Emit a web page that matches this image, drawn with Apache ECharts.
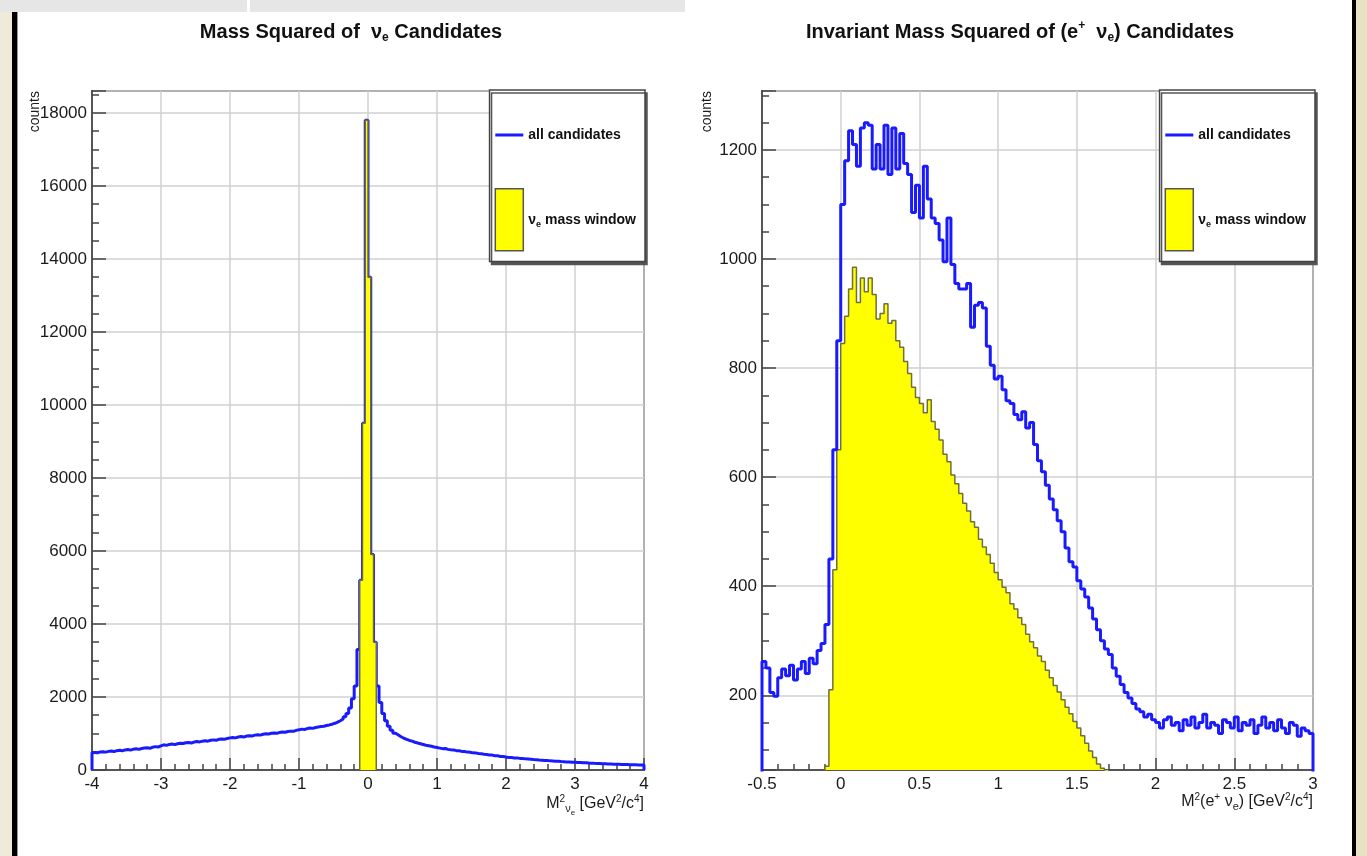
<!DOCTYPE html>
<html>
<head>
<meta charset="utf-8">
<script src="https://cdn.jsdelivr.net/npm/echarts@6/dist/echarts.min.js"></script>
<style>
  html, body { margin: 0; padding: 0; background: #ffffff; }
  #chart { width: 1367px; height: 856px; }
</style>
</head>
<body>
<div id="chart"></div>
<script>
// ---- Left panel: squared mass of the nu_e candidates, 200 bins of 0.04 on [-4, 4]
const nuRange = [-4, 4];
const nuBinWidth = 0.04;
const nuAllCounts = [
  480, 470, 495, 500, 490, 510, 520, 505, 530, 540, 525, 550, 560, 545, 570, 580, 565, 590, 600, 610, 595, 625, 640, 630, 660,
  690, 675, 700, 710, 695, 720, 735, 725, 745, 755, 740, 765, 780, 770, 790, 800, 790, 815, 825, 815, 840, 850, 840, 865, 880,
  890, 880, 905, 915, 905, 930, 940, 930, 955, 965, 955, 980, 990, 985, 1005, 1015, 1005, 1030, 1040, 1035, 1055, 1065, 1060, 1085, 1100,
  1120, 1110, 1135, 1150, 1140, 1165, 1180, 1190, 1200, 1220, 1235, 1255, 1280,
  1310, 1350, 1400, 1460, 1550, 1700, 1950,
  2300, 3300,
  5200, 9500, 17800, 13500, 5900, 3500,
  2300, 1850, 1550, 1350, 1200, 1090, 1010, 960, 910, 870, 840, 810, 790, 760, 740, 720, 700, 680, 665, 650, 630, 615,
  600, 585, 590, 565, 555, 550, 530, 528, 510, 505, 490, 488, 470, 468, 450, 448, 430, 425, 410, 408, 392, 388, 372, 368, 355,
  345, 340, 330, 332, 318, 315, 305, 300, 295, 285, 282, 272, 270, 262, 258, 250, 248, 240, 238, 232, 228, 222, 220, 215, 212,
  208, 205, 198, 196, 190, 188, 182, 180, 176, 172, 170, 166, 163, 160, 158, 155, 152, 150, 148, 146, 144, 142, 140, 138, 136
];
// nu_e mass window: bins 97..102, i.e. [-0.12, 0.12]
const nuWindowFirstBin = 97;
const nuWindowCounts = [5200, 9500, 17800, 13500, 5900, 3500];
const nuCountAxis = { min: 0, max: 18600, interval: 2000 };
const nuMassAxis = { interval: 1 };

// ---- Right panel: invariant mass squared of (e+ nu_e), 140 bins of 0.025 on [-0.5, 3]
const evRange = [-0.5, 3];
const evBinWidth = 0.025;
const evAllCounts = [
  262, 250, 205, 198, 232, 248, 236, 255, 228, 248, 262, 240, 268, 258, 282, 295,
  330, 450, 650, 850,
  1100, 1180, 1235, 1210, 1170, 1240, 1250, 1245, 1165, 1210, 1165, 1245, 1155, 1240, 1165, 1230, 1175, 1155, 1085, 1135,
  1075, 1170, 1110, 1075, 1065, 1035, 995, 1075, 990, 955, 945, 945, 955, 875, 915, 920, 910, 840, 805, 780, 785, 760, 740,
  735, 715, 705, 720, 690, 700, 660, 630, 610, 585, 560, 540, 520, 500, 470, 445, 435, 410, 395, 380,
  360, 340, 320, 300, 285, 275, 250, 235, 220, 205, 195, 185, 175, 170, 160, 165, 155,
  150, 140, 155, 160, 145, 150, 135, 155, 145, 160, 140, 150, 165, 140, 150, 145, 130, 155, 150, 140,
  160, 135, 150, 145, 155, 130, 145, 160, 140, 150, 135, 155, 140, 130, 150, 145, 125, 140, 135, 130
];
// candidates inside the nu_e mass window, starting at bin 16 ([-0.1, -0.075])
const evWindowFirstBin = 16;
const evWindowCounts = [
  70, 210, 430, 650, 845, 895, 945, 985, 920, 965, 940, 965, 935, 890, 900, 918, 882, 887, 850, 838,
  812, 790, 765, 746, 735, 718, 742, 702, 688, 668, 642, 628, 604, 588, 570, 552, 538, 518, 508, 486,
  472, 458, 442, 425, 412, 398, 388, 368, 358, 342, 330, 312, 298, 287, 272, 262, 246, 232, 218, 206,
  192, 178, 166, 152, 140, 126, 112, 98, 86, 74, 66, 58
];
const evCountAxis = { min: 63, max: 1308, splitNumber: 6 };
const evMassAxis = { interval: 0.5 };

const legendNames = ['all candidates', 'νe mass window'];

// ---------------------------------------------------------------------------
const FONT = '"Liberation Sans", Arial, sans-serif';
const INK = '#1b1b1b';
const BLUE = '#1a1aff';
const YELLOW = '#ffff00';
const OLIVE = '#6f6f3a';

// Step outline of a histogram: [edge, count] pairs closed down to the base.
function histogramPoints(x0, width, counts, base) {
  const pts = [[x0, base]];
  counts.forEach((c, i) => pts.push([x0 + i * width, c]));
  const xEnd = x0 + counts.length * width;
  pts.push([xEnd, counts[counts.length - 1]]);
  pts.push([xEnd, base]);
  return pts;
}

const supSub = {
  a: { fontFamily: FONT, fontSize: 16, color: INK },
  p: { fontFamily: FONT, fontSize: 10, color: INK, padding: [0, 0, 9, 0] },
  s: { fontFamily: FONT, fontSize: 11, color: INK, padding: [10, 0, 0, 0] },
  ss: { fontFamily: FONT, fontSize: 8, color: INK, padding: [18, 0, 0, 0] }
};
const titleRich = {
  a: { fontFamily: FONT, fontSize: 20, fontWeight: 'bold', color: '#111' },
  s: { fontFamily: FONT, fontSize: 12, fontWeight: 'bold', color: '#111', padding: [12, 0, 0, 0] },
  p: { fontFamily: FONT, fontSize: 12, fontWeight: 'bold', color: '#111', padding: [0, 0, 12, 0] }
};
const legendRich = {
  t: { fontFamily: FONT, fontSize: 14, fontWeight: 'bold', color: '#111' },
  s: { fontFamily: FONT, fontSize: 9, fontWeight: 'bold', color: '#111', padding: [9, 0, 0, 0] }
};

function massAxis(gridIndex, range, cfg, nameRich) {
  return {
    type: 'value', gridIndex, min: range[0], max: range[1], interval: cfg.interval,
    name: nameRich, nameLocation: 'end', nameGap: 0, nameMoveOverlap: false,
    nameTextStyle: { align: 'right', verticalAlign: 'top', padding: [21, 0, 0, 0], rich: supSub },
    axisLine: { show: true, onZero: false, lineStyle: { color: '#555', width: 2 } },
    axisTick: { show: true, inside: true, length: 12, lineStyle: { color: '#444', width: 1.5 } },
    minorTick: { show: true, splitNumber: 5, length: 6, lineStyle: { color: '#444', width: 1.5 } },
    axisLabel: { margin: 6, fontFamily: FONT, fontSize: 17, color: INK },
    splitLine: { show: true, lineStyle: { color: '#d0d0d0', width: 1.5 } }
  };
}
function countAxis(gridIndex, cfg) {
  return {
    type: 'value', gridIndex, min: cfg.min, max: cfg.max, interval: cfg.interval, splitNumber: cfg.splitNumber,
    axisLine: { show: true, onZero: false, lineStyle: { color: '#555', width: 2 } },
    axisTick: { show: true, inside: true, length: 14, lineStyle: { color: '#444', width: 1.5 } },
    minorTick: { show: true, splitNumber: 4, length: 7, lineStyle: { color: '#444', width: 1.5 } },
    axisLabel: { margin: 5, fontFamily: FONT, fontSize: 17, color: INK, showMaxLabel: false,
      showMinLabel: cfg.min === 0, formatter: v => String(v) },
    splitLine: { show: true, lineStyle: { color: '#d0d0d0', width: 1.5 } }
  };
}
function histSeries(name, axisIndex, pts, filled, z) {
  return {
    name, type: 'line', xAxisIndex: axisIndex, yAxisIndex: axisIndex, data: pts, step: 'end',
    symbol: 'none', clip: true, z, animation: false,
    color: filled ? YELLOW : BLUE,
    lineStyle: filled ? { color: OLIVE, width: 1.5 } : { color: BLUE, width: 3 },
    areaStyle: filled ? { color: YELLOW, opacity: 1, origin: 'start' } : undefined
  };
}
function legendAt(right) {
  return {
    orient: 'vertical', right, top: 90,
    itemWidth: 28, itemHeight: 62, itemGap: 22, selectedMode: false,
    data: [
      { name: legendNames[0], icon: 'path://M0,0M28,62M0,29.5L28,29.5L28,32.5L0,32.5Z', itemStyle: { borderWidth: 0 } },
      { name: legendNames[1], icon: 'rect', itemStyle: { borderColor: '#555', borderWidth: 1.5 } }
    ],
    formatter: n => n === legendNames[0] ? '{t|all candidates}' : '{t|ν}{s|e}{t| mass window}',
    textStyle: { rich: legendRich },
    backgroundColor: '#ffffff', borderColor: '#444', borderWidth: 1.5,
    padding: [14, 9, 10, 5],
    shadowColor: '#555', shadowOffsetX: 2, shadowOffsetY: 3, shadowBlur: 0
  };
}

const chart = echarts.init(document.getElementById('chart'), null, { renderer: 'canvas' });
chart.setOption({
  backgroundColor: '#ffffff',
  animation: false,
  title: [
    { text: '{a|Mass Squared of  ν}{s|e}{a| Candidates}', left: 346, top: 15, textAlign: 'center',
      textStyle: { rich: titleRich } },
    { text: '{a|Invariant Mass Squared of (e}{p|+}{a|  ν}{s|e}{a|) Candidates}', left: 1015, top: 15, textAlign: 'center',
      textStyle: { rich: titleRich } }
  ],
  grid: [
    { left: 92, right: 723, top: 91, bottom: 86, show: true, borderColor: '#555', borderWidth: 2, backgroundColor: '#fff' },
    { left: 762, right: 54, top: 91, bottom: 86, show: true, borderColor: '#555', borderWidth: 2, backgroundColor: '#fff' }
  ],
  xAxis: [
    massAxis(0, nuRange, nuMassAxis, '{a|M}{p|2}{s|ν}{ss|e}{a| [GeV}{p|2}{a|/c}{p|4}{a|]}'),
    massAxis(1, evRange, evMassAxis, '{a|M}{p|2}{a|(e}{p|+}{a| ν}{s|e}{a|) [GeV}{p|2}{a|/c}{p|4}{a|]}')
  ],
  yAxis: [countAxis(0, nuCountAxis), countAxis(1, evCountAxis)],
  legend: [legendAt(1367 - 645), legendAt(1367 - 1315)],
  series: [
    histSeries(legendNames[0], 0, histogramPoints(nuRange[0], nuBinWidth, nuAllCounts, 0), false, 3),
    histSeries(legendNames[1], 0, histogramPoints(nuRange[0] + nuWindowFirstBin * nuBinWidth, nuBinWidth, nuWindowCounts, 0), true, 4),
    histSeries(legendNames[0], 1, histogramPoints(evRange[0], evBinWidth, evAllCounts, 0), false, 4),
    histSeries(legendNames[1], 1, histogramPoints(evRange[0] + evWindowFirstBin * evBinWidth, evBinWidth, evWindowCounts, 0), true, 3)
  ],
  graphic: [
    // page frame around the two canvases
    { type: 'rect', shape: { x: 0, y: 0, width: 247, height: 12 }, style: { fill: '#e6e6e6' }, silent: true },
    { type: 'rect', shape: { x: 250, y: 0, width: 435, height: 12 }, style: { fill: '#e6e6e6' }, silent: true },
    { type: 'rect', shape: { x: 0, y: 12, width: 12, height: 844 }, style: { fill: '#efead9' }, silent: true },
    { type: 'rect', shape: { x: 12, y: 12, width: 5, height: 844 }, style: { fill: '#000' }, silent: true },
    { type: 'rect', shape: { x: 17, y: 12, width: 1, height: 844 }, style: { fill: '#999' }, silent: true },
    { type: 'rect', shape: { x: 1352, y: 0, width: 4, height: 856 }, style: { fill: '#000' }, silent: true },
    { type: 'rect', shape: { x: 1356, y: 0, width: 11, height: 856 }, style: { fill: '#e8e1c4' }, silent: true },
    // y-axis titles
    { type: 'text', x: 35, y: 91, rotation: Math.PI / 2, silent: true,
      style: { text: 'counts', align: 'right', verticalAlign: 'middle', font: '14px ' + FONT, fill: INK } },
    { type: 'text', x: 707, y: 91, rotation: Math.PI / 2, silent: true,
      style: { text: 'counts', align: 'right', verticalAlign: 'middle', font: '14px ' + FONT, fill: INK } }
  ]
});
</script>
</body>
</html>
